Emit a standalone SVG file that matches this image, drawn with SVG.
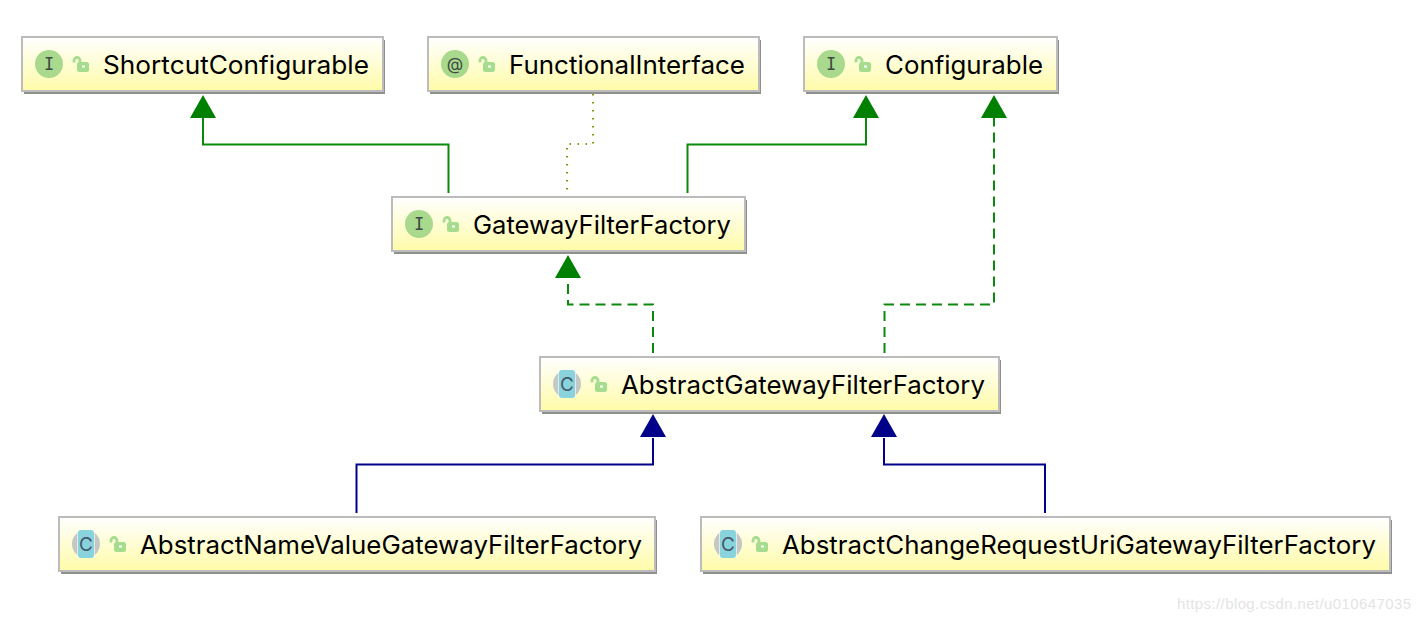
<svg xmlns="http://www.w3.org/2000/svg" width="1420" height="622" viewBox="0 0 1420 622">
<style>
text{font-family:"Inter","Noto Sans",sans-serif}
.t{font-size:25.500px;fill:#000}
.sh{fill:#8f8f8f}
.b{fill:url(#g);stroke:#bcbcbc;stroke-width:2}
.ic{fill:#a9d98c}
.ct{fill:#88d3dc}
.cg{fill:#c2c8c5}
.l{font-size:17px;fill:#3f4a44;text-anchor:middle}
.s{font-family:"DejaVu Sans Mono",monospace}
.c{font-size:19px;font-weight:400;fill:#44586a;text-anchor:middle}
.lk{fill:none;stroke:#a5dc8e;stroke-width:2.800}
.lb{fill:#a5dc8e}
.e{fill:none;stroke-width:2}
.gr{stroke:#0a8a0a}
.bl{stroke:#000088}
.da{stroke-dasharray:10 6}
.dt{stroke:#8f8f10;stroke-dasharray:1.500 6.500}
</style>
<defs>
<linearGradient id="g" x1="0" y1="0" x2="0" y2="1"><stop offset="0" stop-color="#ffffff"/><stop offset="1" stop-color="#fffba8"/></linearGradient>
<g id="lock"><path class="lk" d="M-7-2.500V-4.500a3 3 0 0 1 6 0V-2"/><rect class="lb" x="-4" y="-3" width="12" height="10" rx="2.500"/><rect x="1" y="0.500" width="3" height="2" fill="#fff"/></g>
<g id="cicon"><circle class="cg" r="14"/><rect x="-9" y="-14" width="18" height="28" fill="#fff" fill-opacity="0.6"/><rect class="ct" x="-8" y="-14" width="16" height="28" rx="3"/></g>
</defs>
<g id="connectors">
<path class="e gr" d="M448.500 193V144.500H203V118"/><path fill="#008000" d="M203 95L190 118H216Z"/>
<path class="e gr" d="M687.500 193V144.500H866V118"/><path fill="#008000" d="M866 95L853 118H879Z"/>
<path class="e dt" d="M593 94V144H567V193"/>
<path class="e gr da" d="M653 353V304.500H568V278"/><path fill="#008000" d="M568 255L555 278H581Z"/>
<path class="e gr da" d="M884.500 353V304.500H994V118"/><path fill="#008000" d="M994 95L981 118H1007Z"/>
<path class="e bl" d="M356.500 513V464.500H653V438"/><path fill="#000088" d="M653 414L640 437H666Z"/>
<path class="e bl" d="M1045 513V464.500H884V438"/><path fill="#000088" d="M884 414L871 437H897Z"/>
</g>
<g id="n1"><rect class="sh" x="24" y="40" width="361" height="54"/><rect class="b" x="22" y="37" width="361" height="54"/><circle class="ic" cx="49" cy="64" r="14"/><text class="l s" x="49" y="70">I</text><use href="#lock" x="81" y="65"/><text class="t" x="103" y="74" textLength="266" lengthAdjust="spacingAndGlyphs">ShortcutConfigurable</text></g>
<g id="n2"><rect class="sh" x="430" y="40" width="331" height="54"/><rect class="b" x="428" y="37" width="331" height="54"/><circle class="ic" cx="455" cy="64" r="14"/><text class="l" x="455" y="70">@</text><use href="#lock" x="487" y="65"/><text class="t" x="509" y="74" textLength="236" lengthAdjust="spacingAndGlyphs">FunctionalInterface</text></g>
<g id="n3"><rect class="sh" x="806" y="40" width="253" height="54"/><rect class="b" x="804" y="37" width="253" height="54"/><circle class="ic" cx="831" cy="64" r="14"/><text class="l s" x="831" y="70">I</text><use href="#lock" x="863" y="65"/><text class="t" x="885" y="74" textLength="158" lengthAdjust="spacingAndGlyphs">Configurable</text></g>
<g id="n4"><rect class="sh" x="394" y="200" width="353" height="54"/><rect class="b" x="392" y="197" width="353" height="54"/><circle class="ic" cx="419" cy="224" r="14"/><text class="l s" x="419" y="230">I</text><use href="#lock" x="451" y="225"/><text class="t" x="473" y="234" textLength="258" lengthAdjust="spacingAndGlyphs">GatewayFilterFactory</text></g>
<g id="n5"><rect class="sh" x="542" y="360" width="459" height="54"/><rect class="b" x="540" y="357" width="459" height="54"/><use href="#cicon" x="567" y="384"/><text class="c" x="567" y="391">C</text><use href="#lock" x="599" y="385"/><text class="t" x="621" y="394" textLength="364" lengthAdjust="spacingAndGlyphs">AbstractGatewayFilterFactory</text></g>
<g id="n6"><rect class="sh" x="61" y="520" width="596" height="54"/><rect class="b" x="59" y="517" width="596" height="54"/><use href="#cicon" x="86" y="544"/><text class="c" x="86" y="551">C</text><use href="#lock" x="118" y="545"/><text class="t" x="140" y="554" textLength="502" lengthAdjust="spacingAndGlyphs">AbstractNameValueGatewayFilterFactory</text></g>
<g id="n7"><rect class="sh" x="703" y="520" width="689" height="54"/><rect class="b" x="701" y="517" width="689" height="54"/><use href="#cicon" x="728" y="544"/><text class="c" x="728" y="551">C</text><use href="#lock" x="760" y="545"/><text class="t" x="782" y="554" textLength="594" lengthAdjust="spacingAndGlyphs">AbstractChangeRequestUriGatewayFilterFactory</text></g>
<text x="1177" y="609" font-size="15" fill="#e4e4e4" textLength="234" style="font-family:'Liberation Sans',sans-serif">https://blog.csdn.net/u010647035</text>
</svg>
